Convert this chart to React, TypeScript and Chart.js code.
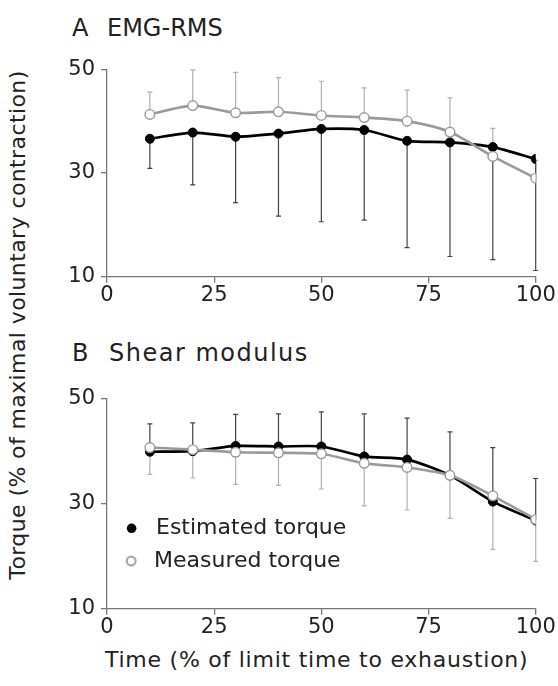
import React, { useEffect, useRef } from "react";
import { Chart, registerables } from "chart.js";

Chart.register(...registerables);

// ---------- data ----------
const timePoints = [10, 20, 30, 40, 50, 60, 70, 80, 90, 100];
const xTicks = [0, 25, 50, 75, 100];
const yTicks = [10, 30, 50];

// Panel A: EMG-RMS
const estimatedA = [36.6, 37.8, 37.0, 37.6, 38.5, 38.3, 36.2, 35.9, 35.0, 32.7];
const estimatedSdA = [5.7, 10.1, 12.7, 15.9, 17.9, 17.4, 20.6, 22.0, 21.7, 21.5];
const measuredA = [41.3, 43.0, 41.6, 41.8, 41.1, 40.7, 40.0, 37.9, 33.2, 29.0];
const measuredSdA = [4.3, 6.9, 7.8, 6.6, 6.6, 5.7, 6.0, 6.6, 5.4, 3.4];

// Panel B: Shear modulus
const estimatedB = [39.9, 40.0, 41.0, 40.9, 40.9, 39.0, 38.4, 35.4, 30.4, 26.8];
const estimatedSdB = [5.3, 5.4, 6.0, 6.2, 6.6, 8.1, 7.9, 8.3, 10.3, 8.0];
const measuredB = [40.7, 40.3, 39.8, 39.7, 39.5, 37.7, 36.9, 35.4, 31.5, 27.0];
const measuredSdB = [5.1, 5.4, 6.1, 6.2, 6.7, 8.1, 8.1, 8.2, 10.2, 8.0];

const legendLabels = ["Estimated torque", "Measured torque"];

// ---------- styles ----------
const FONT = "'DejaVu Sans', sans-serif";
const TEXT = "#222";
const AXIS = "#777";
const BLACK = "#000";
const GRAY = "#9a9a9a";

const errorBarPlugin = {
  id: "errorBars",
  beforeDatasetsDraw(chart: any) {
    const { ctx, scales } = chart;
    const xs = scales.x;
    const ys = scales.y;
    chart.data.datasets.forEach((ds: any) => {
      if (!ds.errors) return;
      ctx.save();
      ctx.strokeStyle = ds.errorColor;
      ctx.lineWidth = 1.2;
      ds.data.forEach((pt: any, i: number) => {
        const x = xs.getPixelForValue(pt.x);
        const y0 = ys.getPixelForValue(pt.y);
        const y1 = ys.getPixelForValue(pt.y + ds.errorDir * ds.errors[i]);
        ctx.beginPath();
        ctx.moveTo(x, y0);
        ctx.lineTo(x, y1);
        ctx.moveTo(x - 2.5, y1);
        ctx.lineTo(x + 2.5, y1);
        ctx.stroke();
      });
      ctx.restore();
    });
  },
};

const legendPlugin = {
  id: "insideLegend",
  afterDraw(chart: any) {
    const opts = chart.options.plugins.insideLegend;
    if (!opts || !opts.show) return;
    const { ctx, chartArea } = chart;
    const l = chartArea.left;
    const t = chartArea.top;
    ctx.save();
    ctx.font = `22px ${FONT}`;
    ctx.textBaseline = "middle";
    // estimated
    ctx.beginPath();
    ctx.arc(l + 24.6, t + 129.6, 4.8, 0, Math.PI * 2);
    ctx.fillStyle = BLACK;
    ctx.fill();
    ctx.fillStyle = TEXT;
    ctx.fillText(legendLabels[0], l + 49, t + 129.6);
    // measured
    ctx.beginPath();
    ctx.arc(l + 24.2, t + 162.3, 4.4, 0, Math.PI * 2);
    ctx.fillStyle = "#fff";
    ctx.fill();
    ctx.lineWidth = 2.2;
    ctx.strokeStyle = "#aaa";
    ctx.stroke();
    ctx.fillStyle = TEXT;
    ctx.fillText(legendLabels[1], l + 47, t + 162.3);
    ctx.restore();
  },
};

function makeConfig(
  est: number[],
  estSd: number[],
  estDir: number,
  meas: number[],
  measSd: number[],
  measDir: number,
  padTop: number,
  xHeight: number,
  showLegend: boolean
): any {
  const tickFont = { family: FONT, size: 21 };
  return {
    type: "line",
    data: {
      datasets: [
        {
          label: legendLabels[1],
          data: timePoints.map((x, i) => ({ x, y: meas[i] })),
          borderColor: GRAY,
          borderWidth: 2.6,
          tension: 0.25,
          pointRadius: 4.8,
          pointBackgroundColor: "#fff",
          pointBorderColor: "#999",
          pointBorderWidth: 1.4,
          errors: measSd,
          errorDir: measDir,
          errorColor: "#b0b0b0",
        },
        {
          label: legendLabels[0],
          data: timePoints.map((x, i) => ({ x, y: est[i] })),
          borderColor: BLACK,
          borderWidth: 2.7,
          tension: 0.25,
          pointRadius: 4.5,
          pointBackgroundColor: BLACK,
          pointBorderColor: BLACK,
          pointBorderWidth: 1,
          errors: estSd,
          errorDir: estDir,
          errorColor: "#444",
        },
      ],
    },
    options: {
      animation: false,
      responsive: false,
      events: [],
      layout: { padding: { top: padTop, right: 22.3, left: 0, bottom: 0 } },
      plugins: {
        legend: { display: false },
        tooltip: { enabled: false },
        insideLegend: { show: showLegend },
      },
      scales: {
        x: {
          type: "linear",
          min: 0,
          max: 100,
          afterBuildTicks: (s: any) => {
            s.ticks = xTicks.map((v) => ({ value: v }));
          },
          afterFit: (s: any) => {
            s.height = xHeight;
          },
          grid: {
            drawOnChartArea: false,
            drawTicks: true,
            tickLength: 6,
            color: AXIS,
            lineWidth: 1.3,
          },
          border: { color: AXIS, width: 1.3 },
          ticks: { font: tickFont, color: TEXT, padding: 0, maxRotation: 0 },
        },
        y: {
          type: "linear",
          min: 10,
          max: 50,
          afterBuildTicks: (s: any) => {
            s.ticks = yTicks.map((v) => ({ value: v }));
          },
          afterFit: (s: any) => {
            s.width = 67;
          },
          grid: {
            drawOnChartArea: false,
            drawTicks: true,
            tickLength: 6,
            color: AXIS,
            lineWidth: 1.3,
          },
          border: { color: AXIS, width: 1.3 },
          ticks: { font: tickFont, color: TEXT, padding: 6 },
        },
      },
    },
    plugins: [errorBarPlugin, legendPlugin],
  };
}

function Panel(props: { config: any; left: number; top: number; width: number; height: number }) {
  const ref = useRef<HTMLCanvasElement | null>(null);
  useEffect(() => {
    if (!ref.current) return;
    const chart = new Chart(ref.current, props.config);
    return () => chart.destroy();
  }, []);
  return (
    <canvas
      ref={ref}
      width={props.width}
      height={props.height}
      style={{
        position: "absolute",
        left: props.left,
        top: props.top,
        width: props.width,
        height: props.height,
      }}
    />
  );
}

const textStyle: React.CSSProperties = {
  position: "absolute",
  fontFamily: FONT,
  color: TEXT,
  whiteSpace: "nowrap",
  lineHeight: 1,
};

export default function App() {
  const configA = makeConfig(
    estimatedA, estimatedSdA, -1,
    measuredA, measuredSdA, 1,
    19.3, 38.3, false
  );
  const configB = makeConfig(
    estimatedB, estimatedSdB, 1,
    measuredB, measuredSdB, -1,
    18.7, 36.3, true
  );
  return (
    <div
      style={{
        position: "absolute",
        left: 0,
        top: 0,
        width: 558,
        height: 686,
        background: "#fff",
        overflow: "hidden",
      }}
    >
      <span style={{ ...textStyle, left: 72, top: 15.7, fontSize: 24 }}>A</span>
      <span style={{ ...textStyle, left: 107, top: 15.7, fontSize: 24 }}>EMG-RMS</span>
      <span style={{ ...textStyle, left: 72, top: 340.7, fontSize: 24 }}>B</span>
      <span style={{ ...textStyle, left: 109, top: 340.7, fontSize: 24, letterSpacing: 1.5 }}>
        Shear modulus
      </span>

      <Panel config={configA} left={40} top={50} width={518} height={265} />
      <Panel config={configB} left={40} top={380} width={518} height={265} />

      <span style={{ ...textStyle, left: 105, top: 649.4, fontSize: 22, letterSpacing: 0.75 }}>
        Time (% of limit time to exhaustion)
      </span>
      <div
        style={{
          ...textStyle,
          left: 18,
          top: 325,
          width: 600,
          height: 24,
          lineHeight: "24px",
          fontSize: 22,
          letterSpacing: 0.4,
          textAlign: "center",
          transform: "translate(-50%, -50%) rotate(-90deg)",
        }}
      >
        Torque (% of maximal voluntary contraction)
      </div>
    </div>
  );
}
